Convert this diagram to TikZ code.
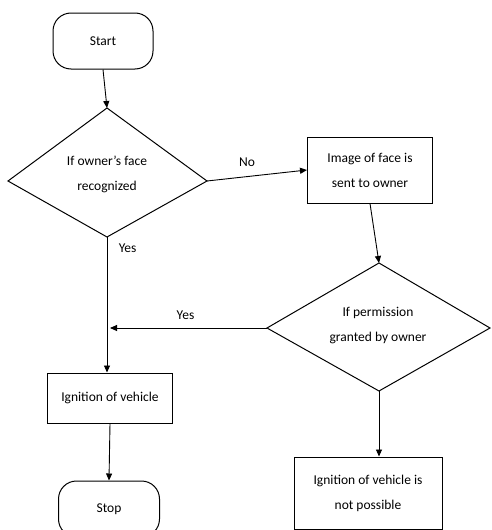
\documentclass[tikz,border=0pt]{standalone}
\usepackage{fontspec}
\setmainfont{Carlito}
\usetikzlibrary{arrows.meta}

\tikzset{
  flowline/.style={line width=0.9pt, draw=black},
  arr/.style={flowline, -{Triangle[length=7pt,width=6pt]}},
  terminal/.style={draw, line width=1pt, rounded corners=18pt, minimum width=100pt, minimum height=56pt},
  procbox/.style={draw, line width=1pt, minimum width=125pt, inner sep=0pt, align=center},
  txt/.style={align=center, inner sep=0pt},
}

\begin{document}
\begin{tikzpicture}[x=1pt, y=-1pt, every node/.style={font=\fontsize{13.5}{25}\selectfont}]
\useasboundingbox (0,0) rectangle (491,530);
\clip (0,0) rectangle (491,530);

% start
\node[terminal] (start) at (103,41) {Start};

% first decision
\coordinate (d1t) at (107,108);
\coordinate (d1r) at (207,181);
\coordinate (d1b) at (107,237);
\coordinate (d1l) at (8,181);
\draw[flowline, line width=1pt] (d1t) -- (d1r) -- (d1b) -- (d1l) -- cycle;
\node[txt] (q1) at (107,174) {If owner’s face\\recognized};
\draw[arr] (start.south) -- (d1t);

% image sent
\node[procbox, minimum width=125pt, minimum height=66pt] (img) at (370,170) {Image of face is\\sent to owner};
\draw[arr] (d1r) -- (img.west) node[midway, above=5pt, xshift=-10pt] (no) {No};

% second decision
\coordinate (d2t) at (379,263);
\coordinate (d2r) at (490,328);
\coordinate (d2b) at (379,391);
\coordinate (d2l) at (267,328);
\draw[flowline, line width=1pt] (d2t) -- (d2r) -- (d2b) -- (d2l) -- cycle;
\node[txt] (q2) at (378,326) {If permission\\granted by owner};
\draw[arr] (img.south) -- (d2t);

% ignition
\node[procbox, minimum width=125pt, minimum height=50pt] (ign) at (110,398) {Ignition of vehicle};
\draw[arr] (d1b) -- (d1b |- ign.north) node[pos=0.08, right=8pt] (yes1) {Yes};
\coordinate (join) at (110,328);
\draw[arr] (d2l) -- (join) node[midway, above=5pt, xshift=-3pt] (yes2) {Yes};

% not possible
\node[procbox, minimum width=148pt, minimum height=72pt] (nop) at (368,493) {Ignition of vehicle is\\not possible};
\draw[arr] (d2b) -- (d2b |- nop.north);

% stop
\node[terminal, minimum width=101pt] (stop) at (109,509) {Stop};
\draw[arr] (ign.south) -- (stop.north);
\end{tikzpicture}
\end{document}
